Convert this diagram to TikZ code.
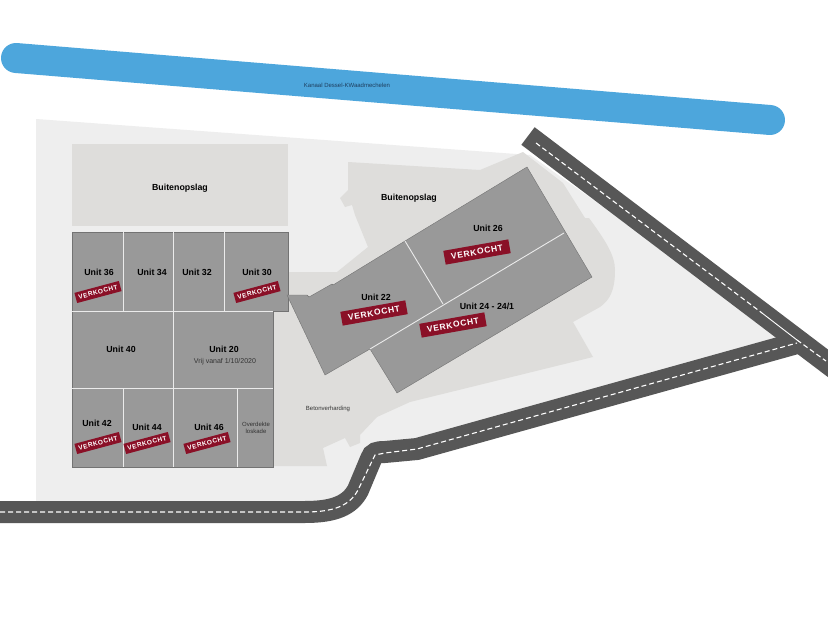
\documentclass[tikz,border=0pt]{standalone}
\usepackage{fontspec}
\setmainfont{Liberation Sans}
\usepackage{xcolor}
\definecolor{canalblue}{HTML}{4DA6DC}
\definecolor{canalink}{HTML}{1F3F5F}
\definecolor{sitegrey}{HTML}{EEEEEE}
\definecolor{pavedgrey}{HTML}{DEDDDB}
\definecolor{unitgrey}{HTML}{999999}
\definecolor{roadgrey}{HTML}{575757}
\definecolor{soldred}{HTML}{8A1027}
\tikzset{
  unit/.style={font=\bfseries\fontsize{8.8}{10}\selectfont, text=black, inner sep=0pt},
  note/.style={font=\fontsize{6}{7}\selectfont, text=black!80, inner sep=0pt, align=center},
  soldsmall/.style={fill=soldred, text=white, font=\bfseries\fontsize{6.5}{7}\selectfont\addfontfeature{LetterSpace=8}, minimum width=46pt, minimum height=10.5pt, inner sep=0pt, rotate=15},
  soldbig/.style={fill=soldred, text=white, font=\bfseries\fontsize{8.5}{10}\selectfont\addfontfeature{LetterSpace=8}, minimum width=66pt, minimum height=14pt, inner sep=0pt, rotate=10},
  building/.style={fill=unitgrey, draw=black!55, line width=0.4pt},
  party/.style={draw=white!92!black, line width=0.9pt},
  road/.style={draw=roadgrey, line width=22pt},
  roadmark/.style={draw=white, line width=1.1pt, dash pattern=on 5pt off 3pt}
}
\begin{document}
\begin{tikzpicture}[x=1pt, y=-1pt]
  \path[use as bounding box, fill=white] (0,0) rectangle (828,618);
  % Define grounds
  \fill[sitegrey] (36,119) -- (530,155) -- (790,340) -- (372,455) -- (350,502) -- (36,502) -- cycle;
  \fill[pavedgrey] (72,144) rectangle (288,226);
  \fill[pavedgrey] (348,162) -- (480,170) -- (523,152) -- (563,183) -- (585,218) -- (589,218)
    .. controls (605,240) and (615,255) .. (615,270)
    .. controls (615,290) and (610,300) .. (600,307)
    -- (573,322) -- (593,357) -- (410,402) -- (377,417) -- (360,435) -- (360,443) -- (350,447)
    -- (345,438) -- (323,448) -- (327,466) -- (270,466) -- (270,300) -- (288,300) -- (288,272)
    -- (337,272) -- (368,247) -- (355,215)
    -- (352,205) -- (345,207) -- (340,198) -- (348,190) -- cycle;
  % Define canal and roads
  \draw[canalblue, line width=30pt, line cap=round] (16,58) -- (770,120);
  \draw[road] (0,512) -- (305,512) .. controls (335,512) and (350,505) .. (358,490)
    -- (371,459) .. controls (373,453) and (377,452) .. (385,452) -- (417,449) -- (797,343);
  \draw[road] (528,136) -- (850,380);
  \draw[roadmark] (0,512) -- (305,512) .. controls (335,512) and (350,505) .. (358,490)
    -- (375,455) -- (385,453) -- (417,449) -- (797,343);
  \draw[roadmark] (536,143) -- (762,313);
  \draw[white, line width=0.9pt] (762,313) -- (797,340);
  \draw[roadmark] (797,340) -- (826,361);
  % Define units
  \draw[building] (72,232) -- (288,232) -- (288,311) -- (273,311) -- (273,467) -- (72,467) -- cycle;
  \draw[building] (527,167) -- (592,277) -- (397,393) -- (370,349) -- (325,375) -- (287,295)
    -- (307,295) -- (309,297) -- (332,284) -- (333,285) -- (405,241) -- cycle;
  \draw[party] (72,311) -- (273,311);
  \draw[party] (72,388) -- (273,388);
  \draw[party] (123,232) -- (123,311);
  \draw[party] (173,232) -- (173,467);
  \draw[party] (224,232) -- (224,311);
  \draw[party] (123,388) -- (123,467);
  \draw[party] (237,388) -- (237,467);
  \draw[party] (564,233) -- (370,349);
  \draw[party] (405,241) -- (443,304);
  % Define labels
  \node[unit] (store1) at (180,188) {Buitenopslag};
  \node[unit] (store2) at (409,198) {Buitenopslag};
  \node[unit] (u36) at (99,272) {Unit 36};
  \node[unit] (u34) at (152,272) {Unit 34};
  \node[unit] (u32) at (197,272) {Unit 32};
  \node[unit] (u30) at (257,272) {Unit 30};
  \node[unit] (u40) at (121,349) {Unit 40};
  \node[unit] (u20) at (224,349) {Unit 20};
  \node[note, font=\fontsize{7}{8}\selectfont] (free) at (225,362) {Vrij vanaf 1/10/2020};
  \node[unit] (u42) at (97,423) {Unit 42};
  \node[unit] (u44) at (147,427) {Unit 44};
  \node[unit] (u46) at (209,427) {Unit 46};
  \node[note] (dock) at (256,427.5) {Overdekte\\loskade};
  \node[unit] (u26) at (488,228) {Unit 26};
  \node[unit] (u22) at (376,297) {Unit 22};
  \node[unit] (u24) at (487,306) {Unit 24 - 24/1};
  \node[note, text=canalink] (canal) at (347,85.5) {Kanaal Dessel-KWaadmechelen};
  \node[note] (concrete) at (328,409) {Betonverharding};
  % Define sold stamps
  \node[soldsmall] (s36) at (98,292) {VERKOCHT};
  \node[soldsmall] (s30) at (257,292) {VERKOCHT};
  \node[soldsmall] (s42) at (98,443) {VERKOCHT};
  \node[soldsmall] (s44) at (147,443) {VERKOCHT};
  \node[soldsmall] (s46) at (207,443) {VERKOCHT};
  \node[soldbig] (s26) at (477,252) {VERKOCHT};
  \node[soldbig] (s22) at (374,313) {VERKOCHT};
  \node[soldbig] (s24) at (453,325) {VERKOCHT};
\end{tikzpicture}
\end{document}
